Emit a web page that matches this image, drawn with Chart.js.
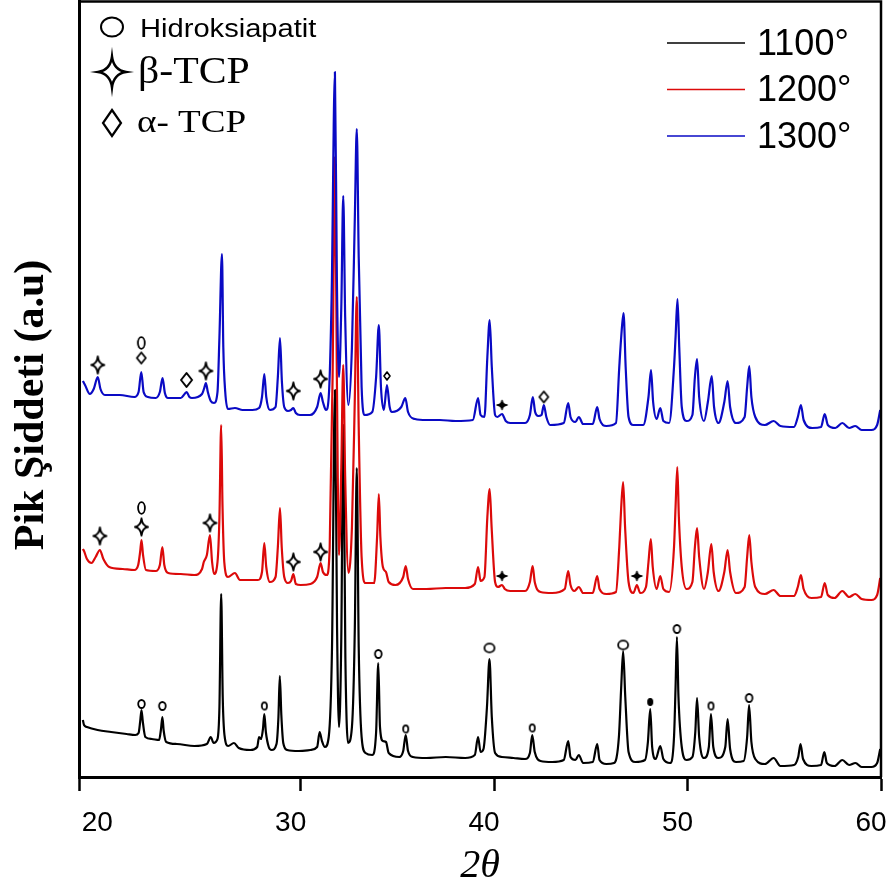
<!DOCTYPE html>
<html>
<head>
<meta charset="utf-8">
<title>XRD</title>
<script src="https://cdn.jsdelivr.net/npm/chart.js@4.4.1/dist/chart.umd.min.js"></script>
<style>
html, body { margin: 0; padding: 0; background: #fff; }
#wrap { position: relative; width: 893px; height: 890px; }
</style>
</head>
<body>
<div id="wrap"><canvas id="xrd"></canvas></div>
<script>
// ---- axis ----
const xTicks = [20, 30, 40, 50, 60];
const xMin = 18.54, xMax = 60;
const yMax = 776;

// ---- series ----
const seriesNames = ['1100°', '1200°', '1300°'];
const seriesColors = ['#000000', '#dc0a0a', '#0a0ac4'];

// [2θ, intensity (a.u.)]
const pattern1100 = [
  [18.74,57],[18.80,52],[18.95,50],[19.5,47],[20.2,45],[21.0,43],[21.45,42],[21.62,44],[21.70,55],[21.77,67],
  [21.84,55],[21.97,40],[22.3,38],[22.68,37],[22.78,48],[22.85,60],[22.92,46],[23.05,35],[23.6,33],[24.5,31],
  [25.15,33],[25.35,40],[25.5,34],[25.7,38],[25.80,70],[25.89,183],[25.97,80],[26.06,42],[26.25,31],[26.55,34],
  [26.8,29],[27.4,27],[27.75,30],[27.85,40],[27.95,38],[28.05,48],[28.12,63],[28.20,45],[28.35,30],[28.5,27],
  [28.75,33],[28.85,60],[28.92,101],[29.0,62],[29.1,34],[29.3,27],[29.9,26],[30.5,27],[30.85,30],[30.98,45],
  [31.1,36],[31.25,30],[31.45,40],[31.62,130],[31.77,387],[31.88,150],[31.98,50],[32.1,140],[32.20,352],[32.31,120],
  [32.45,34],[32.65,50],[32.8,150],[32.90,309],[33.0,130],[33.15,40],[33.35,24],[33.7,22],[33.9,45],[34.01,114],
  [34.1,50],[34.25,36],[34.41,35],[34.55,24],[35.1,20],[35.3,26],[35.43,42],[35.55,26],[35.8,20],[36.5,19],
  [37.5,20],[38.5,19],[39.0,22],[39.17,40],[39.3,25],[39.45,28],[39.63,70],[39.76,118],[39.88,60],[40.05,24],
  [40.4,20],[41.0,19],[41.6,18],[41.85,24],[41.97,42],[42.1,25],[42.4,16],[43.0,15],[43.6,17],[43.83,36],
  [43.95,20],[44.2,17],[44.38,22],[44.6,14],[45.1,15],[45.33,33],[45.45,17],[45.8,13],[46.2,14],[46.45,40],
  [46.57,90],[46.67,126],[46.78,80],[46.95,25],[47.3,15],[47.8,17],[47.95,35],[48.07,68],[48.17,30],[48.35,18],
  [48.59,31],[48.75,18],[49.1,14],[49.3,40],[49.38,90],[49.45,140],[49.53,80],[49.7,30],[49.95,17],[50.25,20],
  [50.4,45],[50.49,79],[50.6,40],[50.85,19],[51.1,30],[51.21,63],[51.33,30],[51.6,19],[51.95,30],[52.07,58],
  [52.2,28],[52.5,15],[52.9,16],[53.08,40],[53.18,72],[53.3,35],[53.5,18],[54.0,13],[54.45,19],[54.8,11],
  [55.5,12],[55.72,20],[55.84,33],[55.97,18],[56.4,11],[56.9,12],[57.07,25],[57.2,14],[57.6,11],[58.0,17],
  [58.35,12],[58.68,14],[59.0,10],[59.5,10],[59.8,14],[59.96,28]
];

const pattern1200 = [
  [18.74,228],[18.80,226],[18.95,218],[19.19,214],[19.4,220],[19.62,227],[19.8,218],[20.1,210],[20.8,208],[21.4,207],
  [21.6,212],[21.7,225],[21.77,237],[21.85,222],[22.0,207],[22.5,206],[22.72,212],[22.85,230],[22.95,212],[23.15,204],
  [23.8,203],[24.5,202],[24.9,208],[24.99,215],[25.15,222],[25.31,242],[25.42,215],[25.52,203],[25.7,215],[25.80,260],
  [25.89,352],[25.96,270],[26.05,215],[26.24,200],[26.6,204],[26.86,197],[27.79,197],[28.0,205],[28.12,234],[28.22,210],
  [28.41,195],[28.7,200],[28.82,230],[28.93,269],[29.02,230],[29.15,200],[29.34,194],[29.5,196],[29.62,203],[29.75,193],
  [30.0,192],[30.5,193],[30.85,200],[31.03,214],[31.15,205],[31.35,202],[31.5,230],[31.65,400],[31.77,620],[31.87,400],
  [31.98,222],[32.1,310],[32.20,412],[32.3,300],[32.47,204],[32.65,250],[32.8,380],[32.90,480],[33.0,350],[33.15,220],
  [33.35,194],[33.8,194],[33.95,240],[34.04,283],[34.12,240],[34.25,210],[34.41,205],[34.55,195],[34.9,192],[35.3,200],
  [35.43,211],[35.55,198],[35.8,188],[36.5,188],[37.5,189],[38.5,189],[39.0,193],[39.17,210],[39.3,196],[39.5,200],
  [39.65,260],[39.77,288],[39.87,250],[40.05,195],[40.2,190],[40.41,192],[40.55,188],[40.83,186],[41.6,186],[41.85,195],
  [41.99,211],[42.1,195],[42.4,185],[43.0,184],[43.65,188],[43.83,206],[43.95,192],[44.15,186],[44.38,190],[44.6,184],
  [45.1,184],[45.33,201],[45.45,188],[45.8,183],[46.3,185],[46.47,230],[46.57,270],[46.67,295],[46.77,250],[46.95,195],
  [47.2,184],[47.38,192],[47.55,184],[47.85,190],[47.98,215],[48.10,238],[48.2,210],[48.4,188],[48.59,201],[48.75,188],
  [49.05,185],[49.3,230],[49.38,270],[49.47,310],[49.55,260],[49.7,210],[49.95,188],[50.25,195],[50.38,230],[50.49,249],
  [50.6,220],[50.85,188],[51.05,205],[51.23,233],[51.35,205],[51.6,186],[51.9,205],[52.07,227],[52.2,205],[52.5,184],
  [52.95,190],[53.08,220],[53.19,242],[53.3,215],[53.5,190],[54.0,183],[54.45,187],[54.8,181],[55.5,181],[55.7,190],
  [55.86,202],[56.0,188],[56.4,179],[56.9,180],[57.09,194],[57.25,182],[57.6,179],[58.0,186],[58.35,180],[58.67,183],
  [59.0,178],[59.5,177],[59.8,182],[59.96,199]
];

const pattern1300 = [
  [18.74,396],[18.85,392],[19.1,383],[19.3,388],[19.51,400],[19.65,388],[19.88,382],[20.65,382],[21.4,380],[21.62,385],
  [21.76,405],[21.88,385],[22.1,380],[22.5,379],[22.72,385],[22.86,399],[22.98,384],[23.14,379],[23.8,379],[24.0,383],
  [24.1,385],[24.25,380],[24.38,379],[24.9,383],[25.0,388],[25.1,394],[25.2,385],[25.35,376],[25.52,374],[25.7,385],
  [25.80,440],[25.93,523],[26.0,430],[26.1,385],[26.24,368],[26.6,369],[27.0,367],[27.5,367],[27.85,369],[28.0,380],
  [28.12,403],[28.22,380],[28.41,367],[28.7,370],[28.82,400],[28.93,439],[29.03,395],[29.15,370],[29.34,366],[29.5,367],
  [29.62,369],[29.75,364],[29.96,362],[30.48,362],[30.85,370],[31.03,384],[31.15,375],[31.31,367],[31.45,380],[31.6,480],
  [31.77,705],[31.87,500],[31.98,400],[32.1,470],[32.20,581],[32.3,460],[32.47,372],[32.65,430],[32.8,560],[32.90,648],
  [33.0,520],[33.15,390],[33.3,362],[33.7,365],[33.9,400],[34.04,452],[34.15,390],[34.3,367],[34.46,392],[34.6,370],
  [34.72,365],[35.2,370],[35.41,379],[35.55,365],[35.91,358],[36.5,357],[37.2,357],[38.0,356],[38.9,357],[39.17,379],
  [39.3,362],[39.5,360],[39.65,420],[39.77,457],[39.88,410],[40.05,362],[40.16,360],[40.41,363],[40.6,356],[40.83,354],
  [41.6,354],[41.85,362],[42.0,380],[42.12,365],[42.28,361],[42.45,362],[42.57,372],[42.7,360],[42.9,352],[43.6,354],
  [43.83,374],[43.95,360],[44.2,355],[44.38,360],[44.6,353],[45.1,353],[45.33,370],[45.45,358],[45.8,351],[46.3,354],
  [46.47,410],[46.57,440],[46.69,464],[46.8,410],[46.95,360],[47.2,352],[47.71,352],[47.98,380],[48.11,407],[48.22,375],
  [48.4,358],[48.59,369],[48.75,356],[49.05,354],[49.3,410],[49.38,440],[49.48,478],[49.57,430],[49.7,370],[49.95,356],
  [50.25,362],[50.38,400],[50.49,418],[50.6,380],[50.85,356],[51.05,375],[51.25,401],[51.37,370],[51.6,354],[51.9,375],
  [52.07,396],[52.2,370],[52.5,354],[52.95,360],[53.08,390],[53.19,411],[53.3,380],[53.5,360],[54.0,352],[54.45,356],
  [54.8,351],[55.5,350],[55.7,360],[55.86,372],[56.0,357],[56.45,349],[56.9,350],[57.09,363],[57.25,352],[57.64,349],
  [58.0,354],[58.35,349],[58.67,351],[59.0,347],[59.5,347],[59.8,352],[59.96,367]
];

// ---- phase markers [2θ, intensity] ----
// hidroksiapatit (1100°)
const hapRingLarge1100 = [[39.76,129],[46.67,132]];
const hapRing1100 = [[21.77,73],[22.85,71],[34.01,123],[49.45,148],[53.18,79]];
const hapRingSmall1100 = [[28.12,71],[35.43,48],[41.97,49],[51.21,71]];
const hapDot1100 = [[48.07,75]];
// 1200°
const betaStar1200 = [[19.62,241],[21.77,250],[25.31,254],[29.62,215],[31.03,225]];
const hapRing1200 = [[21.77,269]];
const betaStarSmall1200 = [[40.41,201],[47.38,201]];
// 1300°
const betaStar1300 = [[19.51,412],[25.10,406],[29.62,386],[31.03,398]];
const hapRing1300 = [[21.76,434]];
const alphaDiamond1300 = [[21.76,419],[42.57,380]];
const alphaDiamondLarge1300 = [[24.10,397]];
const alphaDiamondSmall1300 = [[34.46,401]];
const betaStarSmall1300 = [[40.41,372]];

// ---- phase legend ----
const phaseLabels = ['Hidroksiapatit', 'β-TCP', 'α- TCP'];

// ---------------------------------------------------------------
const toXY = arr => arr.map(([x, y]) => ({ x, y }));

function traceShape(g, shape, cx, cy, rx, ry) {
  g.beginPath();
  if (shape === 'ring') {
    g.ellipse(cx, cy, rx, ry, 0, 0, Math.PI * 2);
  } else if (shape === 'diamond') {
    g.moveTo(cx, cy - ry); g.lineTo(cx + rx, cy); g.lineTo(cx, cy + ry); g.lineTo(cx - rx, cy); g.closePath();
  } else if (shape === 'star') {
    const kx = rx * 0.12, ky = ry * 0.12;
    g.moveTo(cx, cy - ry);
    g.quadraticCurveTo(cx + kx, cy - ky, cx + rx, cy);
    g.quadraticCurveTo(cx + kx, cy + ky, cx, cy + ry);
    g.quadraticCurveTo(cx - kx, cy + ky, cx - rx, cy);
    g.quadraticCurveTo(cx - kx, cy - ky, cx, cy - ry);
    g.closePath();
  }
}

function markerCanvas(shape, rx, ry, lw, filled) {
  const c = document.createElement('canvas');
  const pad = lw + 1;
  c.width = Math.ceil(2 * rx + 2 * pad);
  c.height = Math.ceil(2 * ry + 2 * pad);
  const g = c.getContext('2d');
  traceShape(g, shape, c.width / 2, c.height / 2, rx, ry);
  if (filled) { g.fillStyle = '#000'; g.fill(); }
  g.lineWidth = lw; g.strokeStyle = '#000'; g.lineJoin = 'round';
  g.stroke();
  return c;
}

function patternSet(i, data, order) {
  return {
    label: seriesNames[i], data: toXY(data), borderColor: seriesColors[i],
    borderWidth: 2.2, pointRadius: 0, fill: false, cubicInterpolationMode: 'monotone',
    borderJoinStyle: 'round', order: order, isPattern: true
  };
}
function markerSet(data, img) {
  return {
    label: '', data: toXY(data), showLine: false, pointStyle: img,
    pointRadius: 5, order: 0, isPattern: false
  };
}

const ringL = markerCanvas('ring', 5, 4.3, 1.8, false);
const ringM = markerCanvas('ring', 3.3, 4, 1.8, false);
const ringS = markerCanvas('ring', 2.6, 3.7, 1.7, false);
const dotS = markerCanvas('ring', 2.4, 3.4, 1.2, true);
const ringTall = markerCanvas('ring', 3.4, 5.8, 1.8, false);
const starM = markerCanvas('star', 6.5, 8.5, 2, false);
const starS = markerCanvas('star', 5, 4.5, 1.5, true);
const diamondM = markerCanvas('diamond', 4.5, 5.5, 1.8, false);
const diamondL = markerCanvas('diamond', 5.5, 7, 2, false);
const diamondS = markerCanvas('diamond', 3, 4, 1.6, false);

// text drawn with a horizontal stretch
function wideText(ctx, text, x, y, sx) {
  ctx.save();
  ctx.translate(x, y);
  ctx.scale(sx, 1);
  ctx.fillText(text, 0, 0);
  ctx.restore();
}

// frame, y title and legends
const decorations = {
  id: 'decorations',
  afterDraw(chart) {
    const { ctx, chartArea: a } = chart;
    ctx.save();
    ctx.strokeStyle = '#000';
    ctx.lineWidth = 2.5;
    ctx.beginPath();
    ctx.moveTo(a.left, a.top + 0.5);
    ctx.lineTo(a.right, a.top + 0.5);
    ctx.lineTo(a.right, a.bottom);
    ctx.stroke();

    // y axis title
    ctx.save();
    ctx.translate(43, 405);
    ctx.rotate(-Math.PI / 2);
    ctx.fillStyle = '#000';
    ctx.font = 'bold 42px "Liberation Serif"';
    ctx.textAlign = 'center';
    ctx.textBaseline = 'alphabetic';
    ctx.fillText('Pik Şiddeti (a.u)', 0, 0);
    ctx.restore();

    // series legend
    const sets = chart.data.datasets.filter(d => d.isPattern)
      .sort((p, q) => seriesNames.indexOf(p.label) - seriesNames.indexOf(q.label));
    ctx.font = '36px "Liberation Sans"';
    ctx.textBaseline = 'middle';
    ctx.textAlign = 'left';
    sets.forEach((d, i) => {
      const y = 43 + i * 46.5;
      ctx.strokeStyle = d.borderColor;
      ctx.lineWidth = 1.6;
      ctx.beginPath(); ctx.moveTo(667, y); ctx.lineTo(745, y); ctx.stroke();
      ctx.fillStyle = '#000';
      ctx.fillText(d.label, 757, y + 2);
    });

    // phase legend
    ctx.strokeStyle = '#000';
    ctx.fillStyle = '#000';
    ctx.lineWidth = 2;
    traceShape(ctx, 'ring', 112, 27, 11, 9.5); ctx.stroke();
    ctx.lineWidth = 2.4;
    traceShape(ctx, 'star', 112, 72, 14, 15.5); ctx.stroke();
    ctx.lineWidth = 2.2;
    traceShape(ctx, 'diamond', 112, 123, 9, 13); ctx.stroke();
    ctx.textBaseline = 'alphabetic';
    ctx.font = '26px "Liberation Sans"';
    wideText(ctx, phaseLabels[0], 140, 37, 1.12);
    ctx.font = '38px "Liberation Serif"';
    wideText(ctx, phaseLabels[1], 138, 83, 1.1);
    ctx.font = '32px "Liberation Serif"';
    wideText(ctx, phaseLabels[2], 137, 132, 1.16);
    ctx.restore();
  }
};

Chart.defaults.color = '#000';
Chart.defaults.font.family = '"Liberation Sans"';

new Chart(document.getElementById('xrd'), {
  type: 'line',
  data: {
    datasets: [
      patternSet(2, pattern1300, 1),
      patternSet(1, pattern1200, 2),
      patternSet(0, pattern1100, 3),
      markerSet(hapRingLarge1100, ringL),
      markerSet(hapRing1100, ringM),
      markerSet(hapRingSmall1100, ringS),
      markerSet(hapDot1100, dotS),
      markerSet(betaStar1200, starM),
      markerSet(hapRing1200, ringTall),
      markerSet(betaStarSmall1200, starS),
      markerSet(betaStar1300, starM),
      markerSet(hapRing1300, ringTall),
      markerSet(alphaDiamond1300, diamondM),
      markerSet(alphaDiamondLarge1300, diamondL),
      markerSet(alphaDiamondSmall1300, diamondS),
      markerSet(betaStarSmall1300, starS)
    ]
  },
  options: {
    responsive: true,
    maintainAspectRatio: false,
    animation: false,
    events: [],
    layout: { autoPadding: false, padding: { top: 1, right: 12, left: 0, bottom: 0 } },
    plugins: { legend: { display: false }, tooltip: { enabled: false } },
    scales: {
      x: {
        type: 'linear', min: xMin, max: xMax,
        afterBuildTicks: s => { s.ticks = [{ value: xMin }].concat(xTicks.map(v => ({ value: v }))); },
        afterFit: s => { s.height = 113; s.paddingLeft = 0; s.paddingRight = 0; },
        ticks: {
          callback: v => (xTicks.includes(v) ? String(v) : ''),
          font: { size: 28 }, color: '#000', padding: 15, labelOffset: -10, maxRotation: 0, autoSkip: false
        },
        grid: {
          drawOnChartArea: false, drawTicks: true, tickLength: 14, tickWidth: 2.5,
          tickColor: c => (c.tick && c.tick.value === xTicks[0] ? 'rgba(0,0,0,0)' : '#000')
        },
        border: { display: true, color: '#000', width: 3 },
        title: {
          display: true, text: '2θ', color: '#000',
          font: { family: '"Liberation Serif"', size: 40, style: 'italic' },
          padding: { top: 0, bottom: 0 }
        }
      },
      y: {
        type: 'linear', min: 0, max: yMax,
        afterFit: s => { s.width = 79; s.paddingTop = 0; s.paddingBottom = 0; },
        ticks: { display: false },
        grid: { display: false, drawTicks: false },
        border: { display: true, color: '#000', width: 3 }
      }
    }
  },
  plugins: [decorations]
});
</script>
</body>
</html>
